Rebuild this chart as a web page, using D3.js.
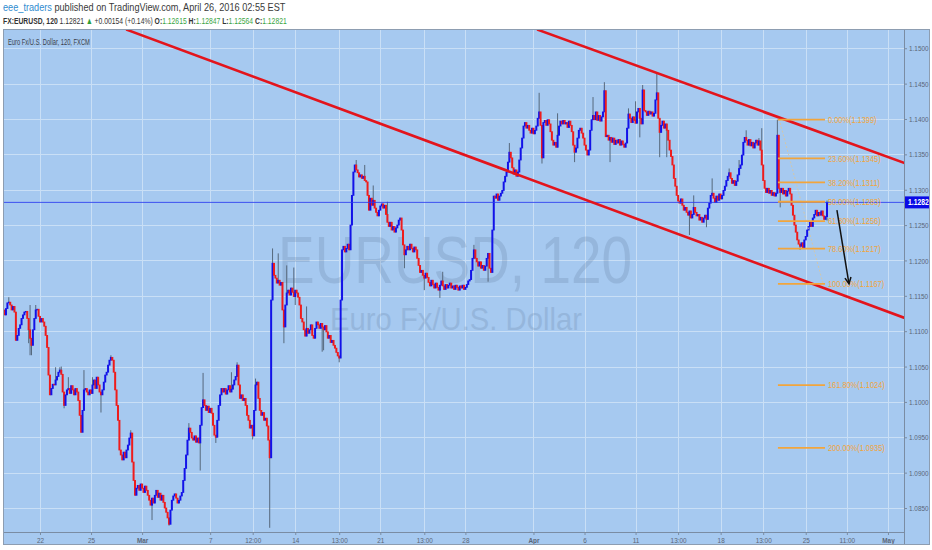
<!DOCTYPE html>
<html><head><meta charset="utf-8">
<script src="https://cdn.jsdelivr.net/npm/d3@7"></script>
<style>html,body{margin:0;padding:0;background:#fff;} svg{display:block;}</style>
</head><body>
<svg id="c" width="932" height="550"></svg>
<script>
// ---------------- DATA ----------------
const xTickBars = [0,36,72,120,150,180,211,240,271,300,348,384,420,450,480,510,540,569,598];
const xTickLabels = ["22","25","Mar","7","12:00","14","13:00","21","13:00","28","Apr","6","11","13:00","18","13:00","25","11:00","May"];
const boldTicks = ["Mar","Apr","May"];
const priceTicks = [1.085,1.090,1.095,1.100,1.105,1.110,1.115,1.120,1.125,1.130,1.135,1.140,1.145,1.150];
const firstBar = -25;
const firstOpen = 1.1130;
const closes = [
1.1123,1.1132,1.1140,1.1141,1.1137,1.1130,1.1135,1.1127,1.1087,1.1094,
1.1104,1.1109,1.1118,1.1123,1.1127,1.1128,1.1118,1.1102,1.1090,1.1080,
1.1102,1.1118,1.1130,1.1131,1.1121,1.1113,1.1118,1.1113,1.1107,1.1094,
1.1077,1.1038,1.1010,1.1019,1.1025,1.1024,1.1031,1.1036,1.1042,1.1045,
1.1039,1.1014,1.0995,1.1010,1.1017,1.1019,1.1012,1.1023,1.1017,1.1010,
1.1019,1.1014,1.1002,1.0981,1.0957,1.0988,1.1017,1.1019,1.1014,1.1010,
1.1017,1.1012,1.1024,1.1031,1.1019,1.1035,1.1024,1.1014,1.1010,1.1017,
1.1028,1.1038,1.1042,1.1052,1.1059,1.1063,1.1059,1.1042,1.1017,1.0995,
1.0974,1.0932,1.0925,1.0918,1.0929,1.0921,1.0932,1.0939,1.0949,1.0956,
1.0915,1.0889,1.0868,1.0878,1.0882,1.0875,1.0884,1.0878,1.0872,1.0881,
1.0875,1.0868,1.0861,1.0854,1.0864,1.0857,1.0868,1.0875,1.0865,1.0871,
1.0861,1.0868,1.0858,1.0850,1.0844,1.0836,1.0827,1.0847,1.0861,1.0867,
1.0870,1.0864,1.0857,1.0861,1.0867,1.0872,1.0889,1.0906,1.0925,1.0946,
1.0963,1.0957,1.0949,1.0946,1.0952,1.0943,1.0949,1.0942,1.0967,1.0992,
1.1003,1.0995,1.0988,1.0994,1.0985,1.0991,1.0984,1.0967,1.0953,1.0950,
1.0974,1.0995,1.1010,1.1019,1.1014,1.1019,1.1011,1.1017,1.1023,1.1014,
1.1018,1.1024,1.1031,1.1036,1.1052,1.1024,1.1005,1.1010,1.1002,1.1005,
1.0995,1.0981,1.0974,1.0963,1.0967,1.0952,1.0988,1.1024,1.1028,1.1005,
1.0988,1.0981,1.0985,1.0974,1.0977,1.0966,1.0946,1.0921,1.1144,1.1196,
1.1179,1.1175,1.1168,1.1172,1.1165,1.1169,1.1130,1.1106,1.1137,1.1154,
1.1158,1.1151,1.1161,1.1155,1.1149,1.1158,1.1154,1.1148,1.1137,1.1118,
1.1113,1.1102,1.1093,1.1104,1.1097,1.1102,1.1109,1.1094,1.1090,1.1104,
1.1113,1.1109,1.1104,1.1111,1.1106,1.1102,1.1108,1.1099,1.1090,1.1094,
1.1084,1.1087,1.1080,1.1076,1.1070,1.1065,1.1062,1.1144,1.1215,1.1220,
1.1212,1.1217,1.1223,1.1215,1.1250,1.1292,1.1325,1.1335,1.1328,1.1324,
1.1318,1.1321,1.1316,1.1319,1.1313,1.1311,1.1292,1.1271,1.1288,1.1278,
1.1285,1.1274,1.1268,1.1263,1.1271,1.1277,1.1280,1.1274,1.1278,1.1265,
1.1254,1.1248,1.1254,1.1243,1.1248,1.1240,1.1246,1.1250,1.1257,1.1260,
1.1243,1.1222,1.1208,1.1215,1.1220,1.1215,1.1223,1.1217,1.1212,1.1219,
1.1215,1.1203,1.1193,1.1183,1.1186,1.1179,1.1175,1.1182,1.1176,1.1169,
1.1164,1.1172,1.1166,1.1161,1.1168,1.1162,1.1158,1.1165,1.1171,1.1164,
1.1159,1.1166,1.1161,1.1165,1.1168,1.1161,1.1164,1.1159,1.1165,1.1162,
1.1158,1.1164,1.1161,1.1165,1.1159,1.1162,1.1166,1.1171,1.1173,1.1186,
1.1203,1.1215,1.1203,1.1198,1.1192,1.1198,1.1189,1.1193,1.1186,1.1192,
1.1203,1.1210,1.1189,1.1183,1.1243,1.1291,1.1288,1.1294,1.1285,1.1291,
1.1295,1.1299,1.1311,1.1319,1.1325,1.1339,1.1353,1.1345,1.1331,1.1322,
1.1328,1.1319,1.1325,1.1342,1.1359,1.1373,1.1390,1.1395,1.1387,1.1391,
1.1384,1.1380,1.1387,1.1379,1.1384,1.1390,1.1401,1.1410,1.1391,1.1345,
1.1395,1.1398,1.1391,1.1399,1.1393,1.1382,1.1370,1.1363,1.1367,1.1360,
1.1377,1.1390,1.1397,1.1393,1.1398,1.1393,1.1395,1.1388,1.1397,1.1391,
1.1382,1.1363,1.1353,1.1359,1.1373,1.1384,1.1387,1.1380,1.1373,1.1363,
1.1356,1.1349,1.1356,1.1384,1.1399,1.1405,1.1399,1.1410,1.1398,1.1405,
1.1397,1.1403,1.1410,1.1440,1.1375,1.1377,1.1370,1.1374,1.1367,1.1373,
1.1364,1.1370,1.1366,1.1371,1.1363,1.1369,1.1364,1.1360,1.1366,1.1387,
1.1407,1.1401,1.1395,1.1403,1.1398,1.1394,1.1410,1.1415,1.1401,1.1393,
1.1441,1.1412,1.1410,1.1405,1.1411,1.1407,1.1410,1.1404,1.1408,1.1427,
1.1437,1.1401,1.1381,1.1391,1.1397,1.1387,1.1393,1.1384,1.1370,1.1356,
1.1347,1.1335,1.1316,1.1305,1.1292,1.1284,1.1281,1.1287,1.1278,1.1271,
1.1275,1.1268,1.1264,1.1270,1.1260,1.1265,1.1275,1.1268,1.1263,1.1265,
1.1257,1.1261,1.1254,1.1260,1.1264,1.1258,1.1274,1.1281,1.1292,1.1295,
1.1288,1.1282,1.1291,1.1285,1.1294,1.1287,1.1292,1.1299,1.1305,1.1313,
1.1319,1.1324,1.1316,1.1309,1.1313,1.1306,1.1312,1.1321,1.1330,1.1335,
1.1349,1.1367,1.1374,1.1370,1.1363,1.1371,1.1362,1.1367,1.1359,1.1366,
1.1370,1.1363,1.1369,1.1356,1.1335,1.1313,1.1302,1.1296,1.1302,1.1295,
1.1299,1.1292,1.1296,1.1291,1.1295,1.1377,1.1302,1.1296,1.1302,1.1294,
1.1299,1.1291,1.1298,1.1302,1.1294,1.1278,1.1264,1.1250,1.1240,1.1229,
1.1223,1.1220,1.1225,1.1218,1.1229,1.1234,1.1243,1.1248,1.1254,1.1248,
1.1260,1.1265,1.1271,1.1263,1.1268,1.1264,1.1270,1.1263,1.1258,1.1262,
1.12821
];
const wickHighs = [[-22,1.1148],[-7,1.1137],[-3,1.1137],[11,1.1049],[14,1.1049],[15,1.1050],[20,1.1035],[31,1.1045],[37,1.1035],[50,1.1066],[64,1.0960],[105,1.0970],[115,1.1041],[135,1.1042],[139,1.1056],[152,1.1033],[164,1.1217],[168,1.1210],[174,1.1193],[179,1.1190],[188,1.1135],[223,1.1342],[229,1.1335],[235,1.1306],[245,1.1283],[284,1.1184],[306,1.1222],[331,1.1366],[352,1.1437],[365,1.1408],[390,1.1431],[398,1.1452],[415,1.1415],[420,1.1425],[425,1.1448],[435,1.1465],[461,1.1292],[474,1.1316],[486,1.1330],[493,1.1342],[498,1.1384],[507,1.1373],[509,1.1387],[520,1.1399],[555,1.12847]];
const wickLows = [[-8,1.1083],[-7,1.1066],[-6,1.1066],[17,1.0991],[43,1.0985],[79,1.0833],[91,1.0825],[113,1.0903],[124,1.0942],[150,1.0947],[162,1.0822],[172,1.1083],[180,1.1137],[199,1.1071],[200,1.1073],[211,1.1056],[257,1.1189],[271,1.1158],[282,1.1147],[316,1.1170],[354,1.1337],[377,1.1339],[402,1.1339],[423,1.1374],[437,1.1346],[442,1.1346],[458,1.1236],[470,1.1247],[522,1.1275],[536,1.1215],[555,1.12564]];
const channelLines = [[61.4,1.1526,609.3,1.1119],[351.2,1.1526,609.3,1.1338]];
const fibHigh = 1.1399, fibLow = 1.1167;
const fibRatios = [0,0.236,0.382,0.5,0.618,0.786,1,1.618,2];
const fibLabels = ["0.00%(1.1399)","23.60%(1.1345)","38.20%(1.1311)","50.00%(1.1283)","61.80%(1.1256)","78.60%(1.1217)","100.00%(1.1167)","161.80%(1.1024)","200.00%(1.0935)"];
const fibBars = [520.4, 553.6];
const fibDiag = [521.2,1.1400,552.2,1.1167];
const arrowPts = [562,1.1271,570.5,1.1167];
const lastPrice = 1.12821, lastPriceLabel = "1.1282";

// ---------------- CHART ----------------
const svg = d3.select('#c');
const FONT = "'Liberation Sans', Arial, sans-serif";
const X0=3, X1=904, Y0=30, Y1=532, RX=930, BY=545, TOP=29;
const BG = '#a6c9f0', GRID='#c9dff6';
const x = d3.scaleLinear().domain([-26.09, 609.3]).range([X0, X1]);
const y = d3.scaleLinear().domain([1.08161, 1.15258]).range([Y1, Y0]);

svg.append('rect').attr('x',X0).attr('y',TOP).attr('width',RX-X0).attr('height',BY-TOP).attr('fill',BG);

// header
function fitText(t, w){ const n=t.node(); const cw=n.getComputedTextLength(); const tx=+t.attr('data-x'), ty=+t.attr('data-y'); t.attr('transform',`translate(${tx},${ty}) scale(${w/cw},1)`); }
const h1 = svg.append('text').attr('data-x',3).attr('data-y',10.5).attr('font-family',FONT).attr('font-size',10).attr('fill','#3a3a3a');
h1.append('tspan').attr('fill','#2f8ccf').text('eee_traders');
h1.append('tspan').text(' published on TradingView.com, April 26, 2016 02:55 EST');
fitText(h1, 283);
const h2 = svg.append('text').attr('data-x',3).attr('data-y',24).attr('font-family',FONT).attr('font-size',9.5).attr('fill','#333');
h2.append('tspan').attr('font-weight','bold').text('FX:EURUSD, 120');
h2.append('tspan').text(' 1.12821 ');
h2.append('tspan').attr('fill','#2e9e36').text('▲');
h2.append('tspan').text(' +0.00154 (+0.14%) ');
[['O:','1.12615'],['H:','1.12847'],['L:','1.12564'],['C:','1.12821']].forEach(([k,v],j)=>{
  h2.append('tspan').attr('font-weight','bold').text((j?' ':'')+k);
  h2.append('tspan').attr('fill','#3aa53f').text(v);
});
fitText(h2, 284);

// grid
const grid = svg.append('g');
grid.selectAll('.hg').data(priceTicks).join('line').attr('x1',X0).attr('x2',X1)
  .attr('y1',d=>Math.round(y(d))+0.5).attr('y2',d=>Math.round(y(d))+0.5).attr('stroke',GRID).attr('stroke-width',1);
grid.selectAll('.vg').data(xTickBars).join('line').attr('y1',Y0).attr('y2',Y1)
  .attr('x1',d=>Math.round(x(d))+0.5).attr('x2',d=>Math.round(x(d))+0.5).attr('stroke',GRID).attr('stroke-width',1);

// clip
svg.append('clipPath').attr('id','pc').append('rect').attr('x',X0).attr('y',Y0).attr('width',X1-X0).attr('height',Y1-Y0);
const plot = svg.append('g').attr('clip-path','url(#pc)');

// watermark
const wm = plot.append('g').attr('fill','#5a7598').attr('opacity',0.22).attr('font-family',FONT);
wm.append('text').attr('x',278).attr('y',283).attr('font-size',67).attr('textLength',354).attr('lengthAdjust','spacingAndGlyphs').text('EURUSD, 120');
wm.append('text').attr('x',330).attr('y',330).attr('font-size',32).attr('textLength',252).attr('lengthAdjust','spacingAndGlyphs').text('Euro Fx/U.S. Dollar');

// title
const tt = svg.append('text').attr('data-x',8).attr('data-y',45).attr('font-family',FONT).attr('font-size',9.5).attr('fill','#3a3f48').text('Euro Fx/U.S. Dollar, 120, FXCM');
fitText(tt, 82);

// candles
const hiMap = new Map(wickHighs), loMap = new Map(wickLows);
const bars = closes.map((c,k)=>{ const o = k ? closes[k-1] : firstOpen; const i = firstBar + k;
  return {i, o, c, h: hiMap.has(i)? hiMap.get(i) : Math.max(o,c), l: loMap.has(i)? loMap.get(i) : Math.min(o,c)}; });
plot.append('g').selectAll('line').data(bars.filter(b=>hiMap.has(b.i)||loMap.has(b.i))).join('line')
  .attr('x1',b=>x(b.i)).attr('x2',b=>x(b.i)).attr('y1',b=>y(b.h)).attr('y2',b=>y(b.l))
  .attr('stroke','#56687c').attr('stroke-width',1);
plot.append('g').selectAll('rect').data(bars).join('rect')
  .attr('x',b=>x(b.i)-1).attr('width',2)
  .attr('y',b=>Math.min(y(b.o),y(b.c))-0.4).attr('height',b=>Math.abs(y(b.o)-y(b.c))+0.8)
  .attr('fill',b=>b.c>=b.o ? '#1212e8' : '#ee1c1c');

// current price line
plot.append('line').attr('x1',X0).attr('x2',X1).attr('y1',y(lastPrice)).attr('y2',y(lastPrice))
  .attr('stroke','#2b3cf0').attr('stroke-width',1).attr('opacity',0.85);

// channel lines
plot.selectAll('.ch').data(channelLines).join('line')
  .attr('x1',d=>x(d[0])).attr('y1',d=>y(d[1])).attr('x2',d=>x(d[2])).attr('y2',d=>y(d[3]))
  .attr('stroke','#e3141c').attr('stroke-width',2.6).attr('stroke-linecap','round');

// fib
plot.append('line').attr('x1',x(fibDiag[0])).attr('y1',y(fibDiag[1])).attr('x2',x(fibDiag[2])).attr('y2',y(fibDiag[3]))
  .attr('stroke','#d9c7a2').attr('stroke-width',1).attr('stroke-dasharray','2,2').attr('opacity',0.9);
const fib = plot.append('g');
fibRatios.forEach((r,k)=>{
  const p = fibHigh - r*(fibHigh-fibLow);
  fib.append('line').attr('x1',x(fibBars[0])).attr('x2',x(fibBars[1])).attr('y1',y(p)).attr('y2',y(p))
    .attr('stroke','#f2a53c').attr('stroke-width',1.8);
  fib.append('text').attr('transform',`translate(828,${y(p)+3.2}) scale(0.78,1)`).attr('font-family',FONT)
    .attr('font-size',9.5).attr('fill','#f2a53c').text(fibLabels[k]);
});

// arrow
const ax1=x(arrowPts[0]), ay1=y(arrowPts[1]), ax2=x(arrowPts[2]), ay2=y(arrowPts[3]);
plot.append('line').attr('x1',ax1).attr('y1',ay1).attr('x2',ax2).attr('y2',ay2).attr('stroke','#111').attr('stroke-width',1.5);
const ang = Math.atan2(ay2-ay1, ax2-ax1), L=7;
plot.append('path').attr('d',`M${ax2-L*Math.cos(ang-0.45)},${ay2-L*Math.sin(ang-0.45)} L${ax2},${ay2} L${ax2-L*Math.cos(ang+0.45)},${ay2-L*Math.sin(ang+0.45)}`)
  .attr('fill','none').attr('stroke','#111').attr('stroke-width',1.5);

// axes
const axCol = '#7a8ca3';
const yAx = svg.append('g').attr('transform',`translate(${X1},0)`)
  .call(d3.axisRight(y).tickValues(priceTicks).tickFormat(d3.format('.4f')).tickSize(3).tickSizeOuter(0));
yAx.select('.domain').remove();
yAx.selectAll('line').attr('stroke',axCol);
yAx.selectAll('text').attr('x',5/0.8).attr('transform','scale(0.8,1)').attr('font-family',FONT).attr('font-size',8).attr('fill','#5b6677');
const xAx = svg.append('g').attr('transform',`translate(0,${Y1})`)
  .call(d3.axisBottom(x).tickValues(xTickBars).tickFormat((d,k)=>xTickLabels[k]).tickSize(3).tickSizeOuter(0));
xAx.select('.domain').remove();
xAx.selectAll('line').attr('stroke',axCol);
xAx.selectAll('text').attr('y',5).attr('dy','0.71em').attr('transform','scale(0.8,1)').attr('font-family',FONT).attr('font-size',8)
  .attr('fill','#5b6677').attr('font-weight',d=>{const k=xTickBars.indexOf(d); return boldTicks.includes(xTickLabels[k])?'bold':'normal';});

// frame lines
svg.append('line').attr('x1',X0).attr('x2',X1).attr('y1',Y1+0.5).attr('y2',Y1+0.5).attr('stroke',axCol);
svg.append('line').attr('x1',X1+0.5).attr('x2',X1+0.5).attr('y1',TOP).attr('y2',BY).attr('stroke',axCol);
svg.append('rect').attr('x',X0+0.5).attr('y',TOP+0.5).attr('width',RX-X0-1).attr('height',BY-TOP-1).attr('fill','none').attr('stroke','#8d9db1');

// last price label
const lp = y(lastPrice);
svg.append('rect').attr('x',X1+1).attr('y',lp-6).attr('width',RX-X1-2).attr('height',12).attr('fill','#0a0ae6');
svg.append('text').attr('transform',`translate(${X1+4},${lp+3}) scale(0.8,1)`).attr('font-family',FONT).attr('font-size',8.5)
  .attr('font-weight','bold').attr('fill','#fff').text(lastPriceLabel);
</script>
</body></html>
